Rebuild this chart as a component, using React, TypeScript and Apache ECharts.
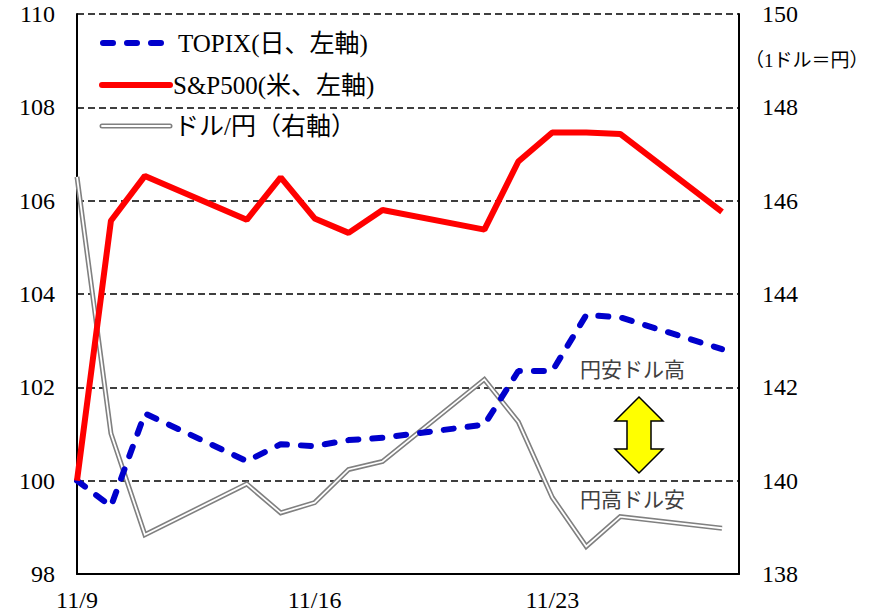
import React, { useEffect, useRef } from "react";
import * as echarts from "echarts";

const dates = ["11/9", "11/10", "11/11", "11/14", "11/15", "11/16", "11/17", "11/18", "11/21", "11/22", "11/23", "11/24", "11/25", "11/28"];
const topix = [100, 99.45, 101.44, 100.42, 100.78, 100.74, 100.87, 100.92, 101.2, 102.35, 102.35, 103.55, 103.5, 102.82];
const sp500 = [100, 105.57, 106.53, 105.59, 106.5, 105.62, 105.31, 105.8, 105.38, 106.84, 107.46, 107.46, 107.43, 105.76];
const usdjpy = [146.51, 141.01, 138.84, 139.93, 139.31, 139.53, 140.24, 140.41, 142.17, 141.26, 139.64, 138.59, 139.23, 138.98];
const xTickLabels = ["11/9", "11/16", "11/23"];
const legendNames = ["TOPIX(日、左軸)", "S&P500(米、左軸)", "ドル/円（右軸）"];
const rightAxisUnit = "（1ドル＝円）";
const upLabel = "円安ドル高";
const downLabel = "円高ドル安";

const FONT = '"Liberation Serif", "Noto Sans CJK JP", serif';

function dayIndex(d: string): number {
  const [m, dd] = d.split("/").map(Number);
  return (Date.UTC(2022, m - 1, dd) - Date.UTC(2022, 10, 9)) / 86400000;
}

export default function App() {
  const ref = useRef<HTMLDivElement>(null);
  useEffect(() => {
    document.body.style.margin = "0";
    const chart = echarts.init(ref.current!, null, { renderer: "svg" });
    const xs = dates.map(dayIndex);
    const toData = (arr: number[]) => xs.map((x, i) => [x, arr[i]]);
    const txt = (text: string, x: number, y: number, size: number, fill = "#000") => ({
      type: "text",
      style: { text, x, y, font: `${size}px ${FONT}`, fill, verticalAlign: "middle", align: "left" },
      z: 10,
    });
    const ax = 639;
    const option: any = {
      animation: false,
      backgroundColor: "#fff",
      grid: { left: 77, right: 136, top: 14, bottom: 39 },
      xAxis: {
        type: "value",
        min: 0,
        max: 19.5,
        interval: 7,
        axisLine: { show: true, onZero: false, lineStyle: { color: "#000", width: 2 } },
        axisTick: { show: false },
        splitLine: { show: false },
        axisLabel: {
          margin: 14,
          fontSize: 24,
          fontFamily: FONT,
          color: "#000",
          formatter: (v: number) => (v % 7 === 0 && v / 7 < xTickLabels.length ? xTickLabels[v / 7] : ""),
        },
      },
      yAxis: [
        {
          type: "value",
          min: 98,
          max: 110,
          interval: 2,
          axisLine: { show: true, lineStyle: { color: "#000", width: 2 } },
          axisTick: { show: false },
          axisLabel: { margin: 22, fontSize: 24, fontFamily: FONT, color: "#000" },
          splitLine: { show: true, lineStyle: { color: "#000", width: 1.5, type: [7, 4] } },
        },
        {
          type: "value",
          min: 138,
          max: 150,
          interval: 2,
          position: "right",
          axisLine: { show: true, lineStyle: { color: "#000", width: 2 } },
          axisTick: { show: false },
          axisLabel: { margin: 23, fontSize: 24, fontFamily: FONT, color: "#000" },
          splitLine: { show: false },
        },
      ],
      series: [
        {
          type: "line",
          yAxisIndex: 1,
          data: toData(usdjpy),
          showSymbol: false,
          symbol: "none",
          lineStyle: { color: "#808080", width: 5, join: "miter" },
          z: 2,
        },
        {
          type: "line",
          yAxisIndex: 1,
          data: toData(usdjpy),
          showSymbol: false,
          symbol: "none",
          lineStyle: { color: "#fff", width: 1.8, join: "miter" },
          z: 3,
        },
        {
          type: "line",
          yAxisIndex: 0,
          data: toData(topix),
          showSymbol: false,
          symbol: "none",
          lineStyle: { color: "#0000CC", width: 6, type: [10, 14], cap: "round" },
          z: 4,
        },
        {
          type: "line",
          yAxisIndex: 0,
          data: toData(sp500),
          showSymbol: false,
          symbol: "none",
          lineStyle: { color: "#FF0000", width: 6 },
          z: 5,
        },
      ],
      graphic: [
        { type: "line", shape: { x1: 103, y1: 43, x2: 167, y2: 43 }, style: { stroke: "#0000CC", lineWidth: 6, lineDash: [10, 14], lineCap: "round" }, z: 10 },
        txt(legendNames[0], 178, 43, 25),
        { type: "line", shape: { x1: 102, y1: 85, x2: 170, y2: 85 }, style: { stroke: "#FF0000", lineWidth: 6, lineCap: "round" }, z: 10 },
        txt(legendNames[1], 173, 85, 25),
        { type: "line", shape: { x1: 102, y1: 126, x2: 170, y2: 126 }, style: { stroke: "#808080", lineWidth: 5, lineCap: "round" }, z: 10 },
        { type: "line", shape: { x1: 102, y1: 126, x2: 170, y2: 126 }, style: { stroke: "#fff", lineWidth: 1.8, lineCap: "round" }, z: 11 },
        txt(legendNames[2], 174, 126, 25),
        txt(rightAxisUnit, 745, 60, 19),
        txt(upLabel, 580, 370, 21, "#404040"),
        txt(downLabel, 580, 500, 21, "#404040"),
        {
          type: "polygon",
          shape: {
            points: [
              [ax, 397], [ax + 24, 421], [ax + 12, 421], [ax + 12, 449], [ax + 24, 449],
              [ax, 473], [ax - 24, 449], [ax - 12, 449], [ax - 12, 421], [ax - 24, 421],
            ],
          },
          style: { fill: "#FFFF00", stroke: "#000", lineWidth: 1.5 },
          z: 10,
        },
      ],
    };
    chart.setOption(option);
    return () => chart.dispose();
  }, []);
  return <div ref={ref} style={{ width: 875, height: 613 }} />;
}
